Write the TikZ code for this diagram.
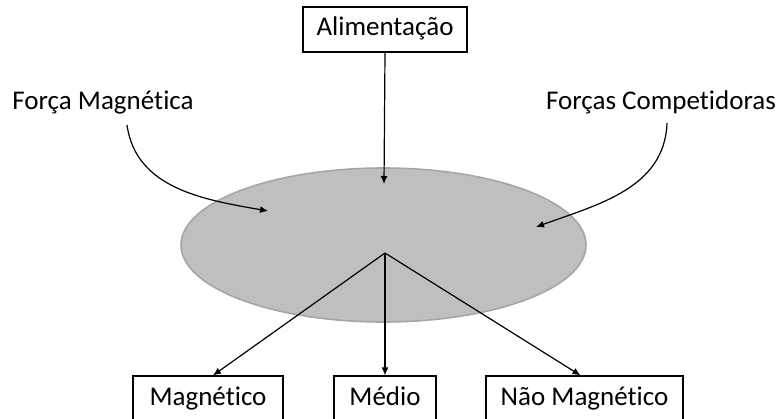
\documentclass[tikz,border=0pt]{standalone}
\usepackage{fontspec}
\setmainfont{Carlito}[Ligatures=NoCommon]
\usetikzlibrary{arrows,arrows.meta,positioning,shapes.geometric}
\definecolor{feedgray}{HTML}{BFBFBF}
\definecolor{feededge}{HTML}{A6A6A6}
\tikzstyle{box}=[draw,line width=0.6pt,minimum height=22.5pt,text height=9.5pt,text depth=3pt,inner xsep=6pt,font=\fontsize{13.5}{16}\selectfont]
\tikzstyle{label}=[inner sep=0pt,font=\fontsize{13.5}{16}\selectfont]
\tikzstyle{link}=[line width=0.6pt,-{Latex[length=4pt,width=3.5pt]}]
\begin{document}
\begin{tikzpicture}[x=0.5pt,y=0.5pt]
\useasboundingbox (0,0) rectangle (780,418);
% material bed
\node [ellipse,fill=feedgray,draw=feededge,line width=0.8pt,minimum width=202.5pt,minimum height=77pt] (bed) at (383.5,173) {};
\coordinate (feedin) at (384,234);
\coordinate (magin) at (268,207);
\coordinate (compin) at (536,191);
\coordinate (split) at (385,165);
% top
\node [box,minimum width=82pt] (alim) at (385,388.5) {Alimentação};
\draw [link] (alim.south) -- (feedin);
% forces
\node [label] (fmag) at (103,315) {Força Magnética};
\node [label] (fcomp) at (661,316) {Forças Competidoras};
\coordinate (fmagout) at (127,293);
\coordinate (fcompout) at (667,295);
\draw [link] (fmagout) to[out=-82,in=170] (magin);
\draw [link] (fcompout) to[out=-92,in=20] (compin);
% products
\node [box,minimum width=75pt] (mag) at (208,19.5) {Magnético};
\node [box,minimum width=51pt] (med) at (385,19.5) {Médio};
\node [box,minimum width=98.5pt] (nmag) at (584.5,19.5) {Não Magnético};
\draw [link] (split) -- ([xshift=2.5pt]mag.north);
\draw [link] (split) -- (med.north);
\draw [link] (split) -- ([xshift=-2pt]nmag.north);
\end{tikzpicture}
\end{document}
